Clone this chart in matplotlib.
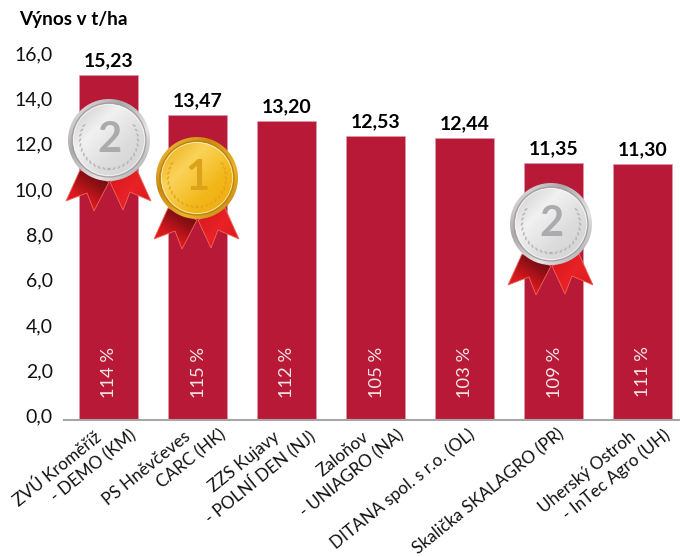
import numpy as np
import matplotlib
matplotlib.use('Agg')
import matplotlib.pyplot as plt
from matplotlib.colors import LinearSegmentedColormap
from matplotlib.patches import Circle, Ellipse, Polygon
from matplotlib.transforms import ScaledTranslation

plt.rcParams['font.family'] = ['Lato', 'DejaVu Sans']

sites = [
    ['ZVÚ Kroměříž', '- DEMO (KM)'],
    ['PS Hněvčeves', 'CARC (HK)'],
    ['ZZS Kujavy', '- POLNÍ DEN (NJ)'],
    ['Zaloňov', '- UNIAGRO (NA)'],
    ['DITANA spol. s r.o. (OL)'],
    ['Skalička SKALAGRO (PR)'],
    ['Uherský Ostroh', '- InTec Agro (UH)'],
]
yields = [15.23, 13.47, 13.20, 12.53, 12.44, 11.35, 11.30]
percents = [114, 115, 112, 105, 103, 109, 111]
y_ticks = [0, 2, 4, 6, 8, 10, 12, 14, 16]

# medals sit on top of the chart, placed in image pixels
medal_places = [(109, 140), (197, 178), (551, 224)]
medal_ranks = ['2', '1', '2']

W, H = 680, 557
BAR_COLOR = '#B81936'
PX = 72 / 100  # points per pixel


def fig_box(x0, y_top, x1, y_bottom):
    return [x0 / W, 1 - y_bottom / H, (x1 - x0) / W, (y_bottom - y_top) / H]


def gradient(ax, box, colors, angle, clip):
    # linear gradient image clipped to a patch
    x0, x1, y0, y1 = box
    yy, xx = np.mgrid[0:1:100j, 0:1:100j]
    a = np.radians(angle)
    g = xx * np.cos(a) + yy * np.sin(a)
    g = (g - g.min()) / (g.max() - g.min())
    cmap = LinearSegmentedColormap.from_list('g', colors)
    im = ax.imshow(g, cmap=cmap, extent=(x0, x1, y1, y0), origin='upper',
                   aspect='auto', interpolation='bilinear', zorder=1)
    ax.add_patch(clip)
    clip.set_facecolor('none')
    clip.set_edgecolor('none')
    im.set_clip_path(clip)


def draw_ribbon(ax, cx, cy, points, colors, angle):
    pts = [(cx + px, cy + py) for px, py in points]
    xs = [p[0] for p in pts]
    ys = [p[1] for p in pts]
    gradient(ax, (min(xs), max(xs), min(ys), max(ys)), colors, angle,
             Polygon(pts, closed=True))
    ax.add_patch(Polygon(pts, closed=True, fill=False, edgecolor='#F0685A', lw=0.6, zorder=1.1))


def draw_disc(ax, cx, cy, r, colors, angle, z):
    n = len(ax.images)
    gradient(ax, (cx - r, cx + r, cy - r, cy + r), colors, angle,
             Circle((cx, cy), r))
    ax.images[n].set_zorder(z)


def draw_medal(ax, cx, cy, rank):
    left = [(-29, 30), (-43, 61), (-22, 53), (-15, 71), (0, 42)]
    right = [(28, 30), (42, 61), (21, 52), (14, 70), (1, 42)]
    draw_ribbon(ax, cx, cy, left, ['#5A0A10', '#8E1015', '#D9191E', '#E82024'], 125)
    draw_ribbon(ax, cx, cy, right, ['#D3161C', '#E92226', '#D8181D'], 40)

    if rank == '1':
        rim = ['#F7C948', '#C98A10', '#EDB32A', '#B87A0C']
        face = ['#E8A80E', '#FBD35A', '#F2B81A', '#EEA90C']
        line = '#B9820F'
        num = '#DBA31A'
        leaf = '#E0A21C'
    else:
        rim = ['#F2F2F2', '#A9A9AB', '#E6E6E6', '#9C9C9E']
        face = ['#C9C9CB', '#F1F1F1', '#DCDCDC', '#D2D2D2']
        line = '#A89A9E'
        num = '#ABABAD'
        leaf = '#B0B0B2'

    draw_disc(ax, cx, cy, 41, rim, 45, 2)
    draw_disc(ax, cx, cy, 36, face, 45, 3)
    ax.add_patch(Circle((cx, cy), 37, fill=False, edgecolor=line, lw=0.8, zorder=4))
    ax.add_patch(Circle((cx, cy), 35.5, fill=False, edgecolor='white', lw=0.5, alpha=0.8, zorder=4))

    # little laurel leaves round the lower rim
    for side in (-1, 1):
        for deg in np.arange(-30, 100, 10):
            a = np.radians(deg)
            x = cx + side * 29 * np.cos(a)
            y = cy + 29 * np.sin(a)
            ax.add_patch(Ellipse((x, y), 4, 1.8, angle=side * (deg + 60),
                                 color=leaf, lw=0, alpha=0.8, zorder=4))

    ax.text(cx, cy + 0.5, rank, ha='center', va='center', fontsize=30, fontweight='bold',
            color=num, zorder=5)


fig = plt.figure(figsize=(W / 100, H / 100), dpi=100)
ax = fig.add_axes(fig_box(64, 57.6, 680, 420))

x = np.arange(len(yields))
ax.bar(x, yields, width=59 / 89, color=BAR_COLOR, edgecolor='#D9A0AC', linewidth=0.4)
ax.set_xlim(-0.5, -0.5 + 616 / 89)
ax.set_ylim(0, 16)
ax.set_yticks(y_ticks)
ax.set_yticklabels([f'{v:.1f}'.replace('.', ',') for v in y_ticks], fontsize=14, color='#111111')
ax.tick_params(axis='y', length=0, pad=8)
for lab in ax.get_yticklabels():
    lab.set_transform(lab.get_transform() + ScaledTranslation(0, 4.5 / 100, fig.dpi_scale_trans))

ax.set_xticks([])
for s in ['top', 'right', 'left']:
    ax.spines[s].set_visible(False)
ax.spines['bottom'].set_color('#A6A6A6')
ax.spines['bottom'].set_linewidth(1.5)

for i, v in enumerate(yields):
    ax.annotate(f'{v:.2f}'.replace('.', ','), (i, v), xytext=(0, 14 * PX), textcoords='offset points',
                ha='center', va='center', fontsize=14, fontweight='bold', color='black')
    ax.annotate(f'{percents[i]} %', (i, 0), xytext=(1 * PX, 48 * PX), textcoords='offset points',
                ha='center', va='center', rotation=90, fontsize=13.2, color='#F5E6E8')

# each category line is its own rotated text, ends pinned under the bar
for i, lines in enumerate(sites):
    if len(lines) == 2:
        offsets = [(-9, -15), (26, -13)]
    else:
        offsets = [(8.5, -12)]
    for line, (dx, dy) in zip(lines, offsets):
        ax.annotate(line, (i, 0), xytext=(dx * PX, dy * PX), textcoords='offset points',
                    ha='right', va='center', rotation=39, rotation_mode='anchor',
                    fontsize=12.3, color='#111111', annotation_clip=False)

fig.text(19 / W, 1 - 20 / H, 'Výnos v t/ha', fontsize=13.6, fontweight='bold', color='black',
         ha='left', va='center')

overlay = fig.add_axes([0, 0, 1, 1], zorder=5)
overlay.patch.set_alpha(0)
overlay.axis('off')
for (cx, cy), rank in zip(medal_places, medal_ranks):
    draw_medal(overlay, cx, cy, rank)
overlay.set_xlim(0, W)
overlay.set_ylim(H, 0)

fig.savefig('out.png', dpi=100)
